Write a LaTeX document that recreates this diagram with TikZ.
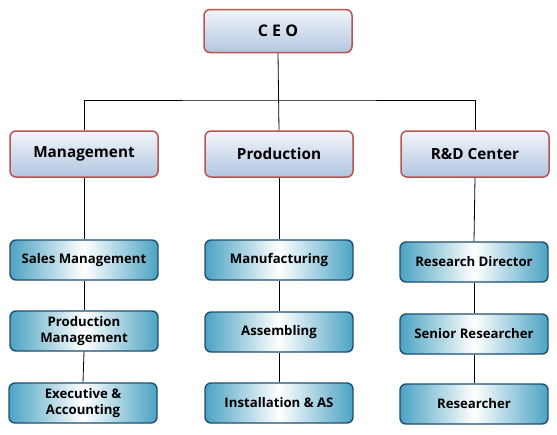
\documentclass[tikz,border=0pt]{standalone}
\usepackage{fontspec}
\setmainfont{Open Sans}
\usetikzlibrary{positioning}
\definecolor{Border}{HTML}{B85450}
\definecolor{Top}{HTML}{F2F5FA}
\definecolor{Bottom}{HTML}{B2C6E0}
\definecolor{Teal}{HTML}{4BA3C3}
\definecolor{Edge}{HTML}{1F4E6E}
\tikzset{
    headnode/.style={rectangle, rounded corners=6pt, draw=Border, line width=1.5pt, top color=Top, bottom color=Bottom, minimum width=148pt, minimum height=46pt, font=\bfseries\fontsize{15.3}{18}\selectfont, align=center},
    unitnode/.style={rectangle, rounded corners=6pt, draw=Edge, line width=1.4pt, left color=Teal, right color=Teal, middle color=white, minimum width=148pt, minimum height=40pt, font=\bfseries\fontsize{13.2}{16}\selectfont, align=center},
    link/.style={black, line width=0.8pt},
}
\begin{document}
\begin{tikzpicture}[x=1pt, y=-1pt]
    \useasboundingbox (0,0) rectangle (557,434);

    % Vertice
    \node[headnode, minimum height=43pt, font=\bfseries\fontsize{16}{18}\selectfont] (ceo) at (278,31) {C E O};

    % Divisioni
    \node[headnode] (mgmt) at (84,154) {Management};
    \node[headnode] (prod) at (279,154) {Production};
    \node[headnode] (rnd) at (475,154) {R\&D Center};

    % Unita'
    \node[unitnode] (sales) at (84,260) {Sales Management};
    \node[unitnode] (pmgmt) at (84,331) {Production\\Management};
    \node[unitnode] (exec) at (83,403) {Executive \&\\Accounting};

    \node[unitnode] (manuf) at (279,260) {Manufacturing};
    \node[unitnode] (assem) at (279,332) {Assembling};
    \node[unitnode] (install) at (279,403) {Installation \& AS};

    \node[unitnode] (rdir) at (474,262) {Research Director};
    \node[unitnode] (senior) at (474,334) {Senior Researcher};
    \node[unitnode] (research) at (474,404) {Researcher};

    % Collegamenti
    \coordinate (bus) at (279,100);
    \draw[link] (ceo.south) -- (prod.north);
    \draw[link] (mgmt.north) |- (bus) -| (rnd.north);

    \draw[link] (mgmt.south) -- (sales.north);
    \draw[link] (sales.south) -- (pmgmt.north);
    \draw[link] (pmgmt.south) -- (exec.north);

    \draw[link] (prod.south) -- (manuf.north);
    \draw[link] (manuf.south) -- (assem.north);
    \draw[link] (assem.south) -- (install.north);

    \draw[link] (rnd.south) -- (rdir.north);
    \draw[link] (rdir.south) -- (senior.north);
    \draw[link] (senior.south) -- (research.north);
\end{tikzpicture}
\end{document}
